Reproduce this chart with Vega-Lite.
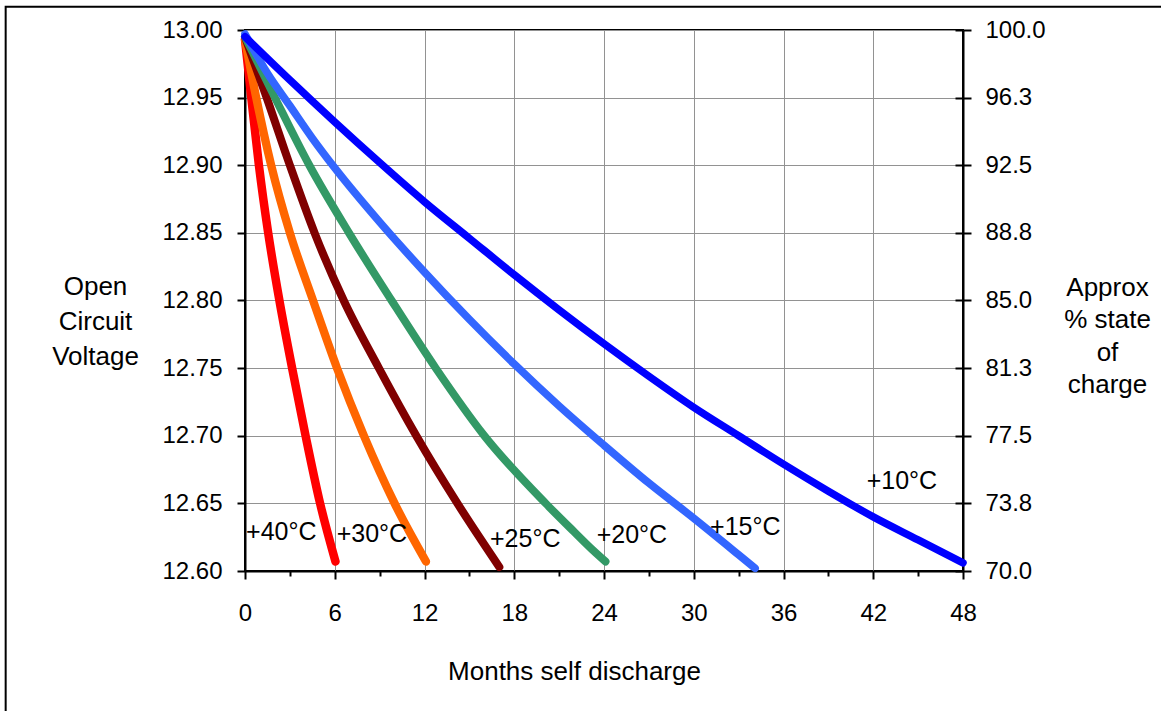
{
  "$schema": "https://vega.github.io/schema/vega-lite/v6.json",
  "width": 718,
  "height": 541,
  "autosize": {"type": "none"},
  "padding": {"left": 245, "top": 30, "right": 198, "bottom": 140},
  "background": "white",
  "config": {
    "view": {"stroke": "black", "strokeWidth": 2},
    "text": {"font": "Liberation Sans"},
    "axis": {
      "labelFont": "Liberation Sans",
      "titleFont": "Liberation Sans",
      "labelColor": "black",
      "titleColor": "black",
      "titleFontWeight": "normal",
      "labelFontSize": 24,
      "titleFontSize": 26,
      "tickColor": "black",
      "tickWidth": 2,
      "domainColor": "black",
      "domainWidth": 2,
      "gridColor": "#929292",
      "gridWidth": 1,
      "labelFlush": false,
      "labelOverlap": false,
      "labelBound": false
    }
  },
  "datasets": {
    "curves": [
      {"series": "40", "month": 0, "volt": 12.993},
      {"series": "40", "month": 0.42, "volt": 12.95},
      {"series": "40", "month": 0.93, "volt": 12.9},
      {"series": "40", "month": 1.55, "volt": 12.85},
      {"series": "40", "month": 2.3, "volt": 12.8},
      {"series": "40", "month": 3.15, "volt": 12.75},
      {"series": "40", "month": 4.05, "volt": 12.7},
      {"series": "40", "month": 5.02, "volt": 12.65},
      {"series": "40", "month": 6.05, "volt": 12.607},
      {"series": "30", "month": 0, "volt": 12.993},
      {"series": "30", "month": 0.75, "volt": 12.95},
      {"series": "30", "month": 1.75, "volt": 12.9},
      {"series": "30", "month": 3.0, "volt": 12.85},
      {"series": "30", "month": 4.55, "volt": 12.8},
      {"series": "30", "month": 6.15, "volt": 12.75},
      {"series": "30", "month": 7.95, "volt": 12.7},
      {"series": "30", "month": 10.0, "volt": 12.65},
      {"series": "30", "month": 12.1, "volt": 12.607},
      {"series": "25", "month": 0, "volt": 12.995},
      {"series": "25", "month": 1.45, "volt": 12.95},
      {"series": "25", "month": 3.0, "volt": 12.9},
      {"series": "25", "month": 4.65, "volt": 12.85},
      {"series": "25", "month": 6.6, "volt": 12.8},
      {"series": "25", "month": 8.95, "volt": 12.75},
      {"series": "25", "month": 11.45, "volt": 12.7},
      {"series": "25", "month": 14.2, "volt": 12.65},
      {"series": "25", "month": 17.0, "volt": 12.603},
      {"series": "20", "month": 0, "volt": 12.995},
      {"series": "20", "month": 2.0, "volt": 12.95},
      {"series": "20", "month": 4.3, "volt": 12.9},
      {"series": "20", "month": 6.95, "volt": 12.85},
      {"series": "20", "month": 9.8, "volt": 12.8},
      {"series": "20", "month": 12.75, "volt": 12.75},
      {"series": "20", "month": 16.0, "volt": 12.7},
      {"series": "20", "month": 20.1, "volt": 12.65},
      {"series": "20", "month": 22.0, "volt": 12.629},
      {"series": "20", "month": 23.2, "volt": 12.616},
      {"series": "20", "month": 24.1, "volt": 12.607},
      {"series": "15", "month": 0, "volt": 12.997},
      {"series": "15", "month": 1.5, "volt": 12.968},
      {"series": "15", "month": 3, "volt": 12.944},
      {"series": "15", "month": 4.5, "volt": 12.92},
      {"series": "15", "month": 6, "volt": 12.898},
      {"series": "15", "month": 9, "volt": 12.858},
      {"series": "15", "month": 12, "volt": 12.821},
      {"series": "15", "month": 15, "volt": 12.786},
      {"series": "15", "month": 18, "volt": 12.753},
      {"series": "15", "month": 21, "volt": 12.722},
      {"series": "15", "month": 24, "volt": 12.693},
      {"series": "15", "month": 27, "volt": 12.665},
      {"series": "15", "month": 30, "volt": 12.639},
      {"series": "15", "month": 33, "volt": 12.612},
      {"series": "15", "month": 34.1, "volt": 12.602},
      {"series": "10", "month": 0, "volt": 12.995},
      {"series": "10", "month": 3, "volt": 12.963},
      {"series": "10", "month": 6, "volt": 12.932},
      {"series": "10", "month": 9, "volt": 12.902},
      {"series": "10", "month": 12, "volt": 12.873},
      {"series": "10", "month": 15, "volt": 12.846},
      {"series": "10", "month": 18, "volt": 12.819},
      {"series": "10", "month": 21, "volt": 12.793},
      {"series": "10", "month": 24, "volt": 12.768},
      {"series": "10", "month": 27, "volt": 12.744},
      {"series": "10", "month": 30, "volt": 12.721},
      {"series": "10", "month": 33, "volt": 12.7},
      {"series": "10", "month": 36, "volt": 12.679},
      {"series": "10", "month": 39, "volt": 12.659},
      {"series": "10", "month": 42, "volt": 12.64},
      {"series": "10", "month": 45, "volt": 12.623},
      {"series": "10", "month": 48, "volt": 12.606}
    ],
    "labels": [
      {"text": "+40°C", "month": 0.07, "volt": 12.6229},
      {"text": "+30°C", "month": 6.13, "volt": 12.6217},
      {"text": "+25°C", "month": 16.38, "volt": 12.618},
      {"text": "+20°C", "month": 23.51, "volt": 12.6205},
      {"text": "+15°C", "month": 31.09, "volt": 12.6266},
      {"text": "+10°C", "month": 41.56, "volt": 12.6604}
    ],
    "frame": [{"name": "frame"}]
  },
  "resolve": {"axis": {"x": "independent", "y": "independent"}},
  "layer": [
    {
      "data": {"name": "frame"},
      "mark": {"type": "rect", "filled": false, "stroke": "black", "strokeWidth": 2, "clip": false},
      "encoding": {
        "x": {"datum": -16.0, "type": "quantitative", "scale": {"domain": [0, 48], "nice": false, "zero": false}, "axis": null},
        "x2": {"datum": 70},
        "y": {
          "datum": 13.0172,
          "type": "quantitative",
          "scale": {"domain": [12.6, 13.0], "nice": false, "zero": false},
          "axis": {
            "orient": "right",
            "offset": -8,
            "values": [12.6, 12.65, 12.7, 12.75, 12.8, 12.85, 12.9, 12.95, 13.0],
            "tickSize": 8,
            "labels": false,
            "domain": false,
            "grid": false,
            "title": null
          }
        },
        "y2": {"datum": 12.4}
      }
    },
    {
      "data": {"name": "curves"},
      "mark": {"type": "line", "interpolate": "monotone", "strokeCap": "round", "strokeJoin": "round"},
      "encoding": {
        "x": {
          "field": "month",
          "type": "quantitative",
          "scale": {"domain": [0, 48], "nice": false, "zero": false},
          "axis": {
            "orient": "bottom",
            "values": [0, 6, 12, 18, 24, 30, 36, 42, 48],
            "tickSize": 8,
            "labelPadding": 22,
            "grid": true,
            "title": "Months self discharge",
            "titleX": 329,
            "titleY": 108,
            "titleAlign": "center",
            "titleAnchor": "start",
            "titleBaseline": "alphabetic"
          }
        },
        "y": {
          "field": "volt",
          "type": "quantitative",
          "scale": {"domain": [12.6, 13.0], "nice": false, "zero": false},
          "axis": {
            "orient": "left",
            "values": [12.6, 12.65, 12.7, 12.75, 12.8, 12.85, 12.9, 12.95, 13.0],
            "format": ".2f",
            "tickSize": 8,
            "labelPadding": 15,
            "grid": true,
            "title": ["Open", "Circuit", "Voltage"],
            "titleAngle": 0,
            "titleX": -150,
            "titleY": 264,
            "titleAlign": "center",
            "titleAnchor": "start",
            "titleBaseline": "alphabetic",
            "titleLineHeight": 35
          }
        },
        "detail": {"field": "series"},
        "color": {
          "field": "series",
          "type": "nominal",
          "scale": {"domain": ["40", "30", "25", "20", "15", "10"], "range": ["#FF0000", "#FF6600", "#800000", "#339966", "#3366FF", "#0000FF"]},
          "legend": null
        },
        "strokeWidth": {
          "field": "series",
          "type": "nominal",
          "scale": {"domain": ["40", "30", "25", "20", "15", "10"], "range": [8.5, 7.5, 6.5, 8, 7, 10]},
          "legend": null
        }
      }
    },
    {
      "data": {"name": "labels"},
      "mark": {"type": "text", "align": "left", "baseline": "alphabetic", "fontSize": 25, "color": "black", "font": "Liberation Sans"},
      "encoding": {
        "x": {
          "field": "month",
          "type": "quantitative",
          "scale": {"domain": [0, 48], "nice": false, "zero": false},
          "axis": {
            "orient": "bottom",
            "values": [3, 9, 15, 21, 27, 33, 39, 45],
            "tickSize": 5,
            "labels": false,
            "domain": false,
            "grid": false,
            "title": null
          }
        },
        "y": {
          "field": "volt",
          "type": "quantitative",
          "scale": {"domain": [12.6, 13.0], "nice": false, "zero": false},
          "axis": {
            "orient": "right",
            "values": [12.6, 12.65, 12.7, 12.75, 12.8, 12.85, 12.9, 12.95, 13.0],
            "labelExpr": "format(round((70 + (datum.value - 12.6) * 75) * 100) / 100 + 0.0001, '.1f')",
            "tickSize": 8,
            "labelPadding": 14,
            "domain": true,
            "grid": false,
            "title": ["Approx", "% state", "of", "charge"],
            "titleAngle": 0,
            "titleX": 144,
            "titleY": 265,
            "titleAlign": "center",
            "titleAnchor": "start",
            "titleBaseline": "alphabetic",
            "titleLineHeight": 32.5
          }
        },
        "text": {"field": "text", "type": "nominal"}
      }
    }
  ]
}
